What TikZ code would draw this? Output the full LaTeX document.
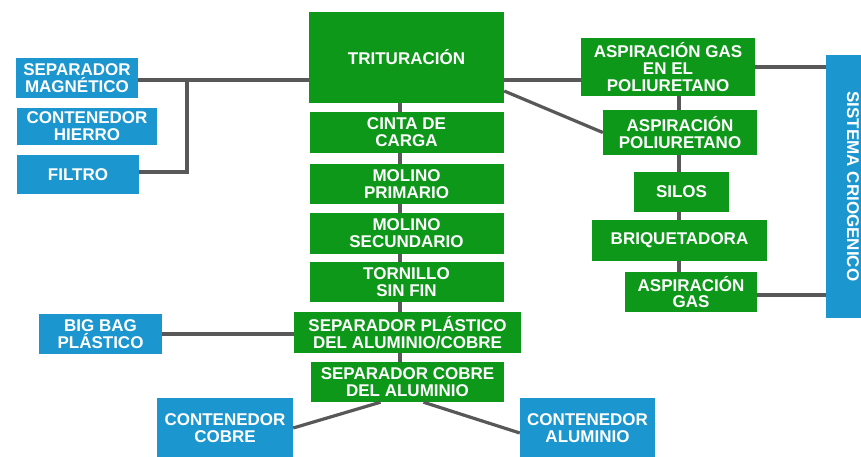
\documentclass[tikz,border=0pt]{standalone}
\usepackage{fontspec}
\setmainfont{Liberation Sans}
\usepackage{tikz}
\usetikzlibrary{calc,
  positioning
}
\definecolor{boxgreen}{RGB}{14,152,26}
\definecolor{boxblue}{RGB}{27,150,207}
\definecolor{linkgray}{RGB}{88,88,88}
\tikzstyle{greenbox} = [fill=boxgreen, text=white, align=center,
  inner sep=0pt, font=\bfseries\fontsize{17}{16.8}\selectfont]
\tikzstyle{bluebox} = [greenbox, fill=boxblue]
\tikzstyle{link} = [line width=3.2, linkgray]

\begin{document}
\begin{tikzpicture}[x=1pt, y=-1pt]
  \clip (0, 0) rectangle (861, 457);
  \fill[white] (0, 0) rectangle (861, 457);

  % centre column
  \path (406.5, 57.5) node[greenbox, minimum width=195, minimum height=91] (trit) {TRITURACIÓN};
  \path (406.5, 132.5) node[greenbox, minimum width=194, minimum height=41] (cinta) {CINTA DE\\CARGA};
  \path (406.5, 184) node[greenbox, minimum width=194, minimum height=40] (mprim) {MOLINO\\PRIMARIO};
  \path (406.5, 233.5) node[greenbox, minimum width=194, minimum height=41] (msec) {MOLINO\\SECUNDARIO};
  \path (406.5, 282) node[greenbox, minimum width=194, minimum height=40] (torn) {TORNILLO\\SIN FIN};
  \path (407.5, 332.5) node[greenbox, minimum width=227, minimum height=41] (sepplas) {SEPARADOR PLÁSTICO\\DEL ALUMINIO/COBRE};
  \path (407.5, 382) node[greenbox, minimum width=193, minimum height=40] (sepcob) {SEPARADOR COBRE\\DEL ALUMINIO};

  % left side
  \path (77, 78) node[bluebox, minimum width=122, minimum height=40] (sepmag) {SEPARADOR\\MAGNÉTICO};
  \path (87, 126.5) node[bluebox, minimum width=140, minimum height=37] (hierro) {CONTENEDOR\\HIERRO};
  \path (78, 174.5) node[bluebox, minimum width=122, minimum height=39] (filtro) {FILTRO};
  \path (100.5, 334) node[bluebox, minimum width=123, minimum height=40] (bigbag) {BIG BAG\\PLÁSTICO};
  \path (225, 428) node[bluebox, minimum width=136, minimum height=60] (cobre) {CONTENEDOR\\COBRE};
  \path (587.5, 428) node[bluebox, minimum width=135, minimum height=60] (alum) {CONTENEDOR\\ALUMINIO};

  % right side
  \path (668, 67) node[greenbox, minimum width=174, minimum height=58] (agep) {ASPIRACIÓN GAS\\EN EL\\POLIURETANO};
  \path (680, 132.5) node[greenbox, minimum width=154, minimum height=45] (ap) {ASPIRACIÓN\\POLIURETANO};
  \path (681.5, 192) node[greenbox, minimum width=95, minimum height=40] (silos) {SILOS};
  \path (679.5, 240.5) node[greenbox, minimum width=175, minimum height=41] (briq) {BRIQUETADORA};
  \path (691, 292) node[greenbox, minimum width=132, minimum height=40] (agas) {ASPIRACIÓN\\GAS};
  \path (853, 186.5) node[bluebox, rotate=-90, minimum width=263, minimum height=54] (sist) {SISTEMA CRIOGENICO};

  \coordinate (lspine) at (400, 0);
  \coordinate (rspine) at (679, 0);
  \coordinate (lbranch) at (187, 80);

  \foreach \a/\b in {trit/cinta, cinta/mprim, mprim/msec, msec/torn, torn/sepplas, sepplas/sepcob} {
    \draw[link] (lspine |- \a.south) -- (lspine |- \b.north);
  }
  \foreach \a/\b in {agep/ap, ap/silos, silos/briq, briq/agas} {
    \draw[link] (rspine |- \a.south) -- (rspine |- \b.north);
  }

  \draw[link] ([yshift=-2pt]sepmag.east) -- ([yshift=-2pt]sepmag.east -| trit.west);
  \draw[link] ([yshift=2.5pt]filtro.east) -| (lbranch);
  \draw[link] (bigbag.east) -- (bigbag.east -| sepplas.west);
  \draw[link] ([xshift=-27pt]sepcob.south) -- (cobre.east);
  \draw[link] ([xshift=16pt]sepcob.south) -- ([yshift=-5pt]alum.west);

  \draw[link] ([yshift=-13pt]agep.west) -- ([yshift=-13pt]agep.west -| trit.east);
  \draw[link] ([yshift=-33.5pt]trit.east) -- (ap.west);
  \draw[link] (agep.east) -- (agep.east -| sist.south);
  \draw[link] ([yshift=-3pt]agas.east) -- ([yshift=-3pt]agas.east -| sist.south);
\end{tikzpicture}
\end{document}
